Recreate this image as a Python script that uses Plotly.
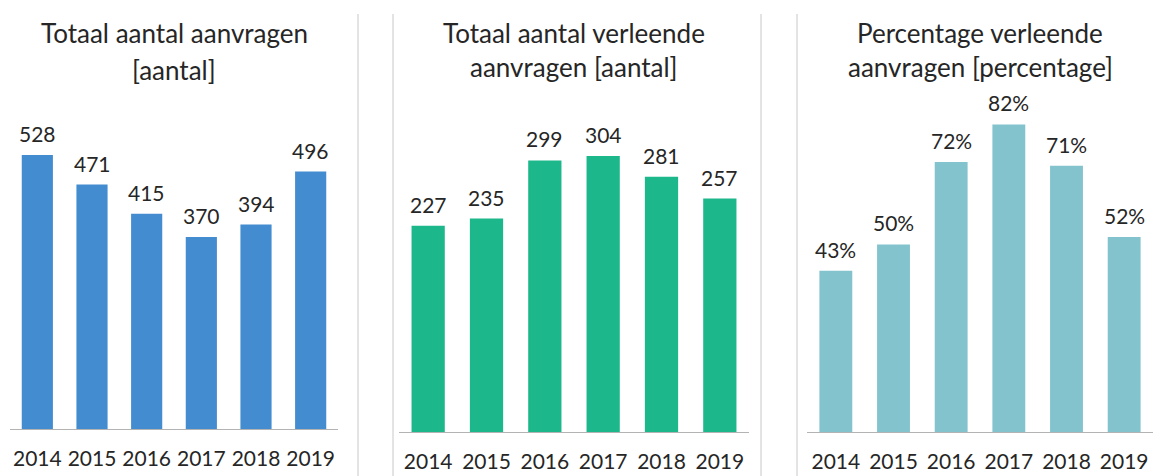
import plotly.graph_objects as go

years = ["2014", "2015", "2016", "2017", "2018", "2019"]
aanvragen = [528, 471, 415, 370, 394, 496]
verleend = [227, 235, 299, 304, 281, 257]
percentage = [43, 50, 72, 82, 71, 52]

titles = [
    ("Totaal aantal aanvragen", "[aantal]"),
    ("Totaal aantal verleende", "aanvragen [aantal]"),
    ("Percentage verleende", "aanvragen [percentage]"),
]
colors = ["#438CCF", "#1CB78B", "#82C3CD"]
series = [aanvragen, verleend, percentage]
fmts = ["{}", "{}", "{}%"]

W, H = 1156, 476
FONT = "Lato"

# pixel geometry of the three panels: (left, right, bottom, top, yrange max)
panels = [
    (10, 338, 429, 100, 634),
    (399, 749, 432, 100, 365.6),
    (807, 1153, 432, 100, 88.5),
]
title_y = [(33, 70), (33, 67), (33, 67)]

fig = go.Figure()
layout = dict(
    width=W, height=H, margin=dict(l=0, r=0, t=0, b=0),
    paper_bgcolor="white", plot_bgcolor="white",
    showlegend=False, bargap=0.43,
    font=dict(family=FONT, color="#262626"),
)
annotations = []
shapes = []
for i, (vals, col, fmt) in enumerate(zip(series, colors, fmts)):
    left, right, bottom, top, ymax = panels[i]
    sfx = "" if i == 0 else str(i + 1)
    fig.add_trace(go.Bar(x=years, y=vals, marker=dict(color=col, line=dict(width=0)),
                         xaxis="x" + sfx, yaxis="y" + sfx, hoverinfo="x+y"))
    layout["xaxis" + sfx] = dict(
        domain=[left / W, right / W], anchor="y" + sfx,
        type="category", range=[-0.5, 5.5],
        showline=True, linecolor="#B3B3B3", linewidth=1,
        showgrid=False, zeroline=False,
        ticks="outside", ticklen=11, tickcolor="rgba(0,0,0,0)",
        tickfont=dict(family=FONT, size=21, color="#262626"),
        fixedrange=True,
    )
    layout["yaxis" + sfx] = dict(
        domain=[1 - bottom / H, 1 - top / H], anchor="x" + sfx,
        range=[0, ymax], visible=False, showgrid=False, zeroline=False,
        fixedrange=True,
    )
    for j, v in enumerate(vals):
        annotations.append(dict(
            x=j, y=v, xref="x" + sfx, yref="y" + sfx,
            text=fmt.format(v), showarrow=False,
            xanchor="center", yanchor="bottom", yshift=7,
            font=dict(family=FONT, size=21, color="#262626"),
        ))
    cx = (left + right) / 2 / W
    for line, ypx in zip(titles[i], title_y[i]):
        annotations.append(dict(
            x=cx, y=1 - ypx / H, xref="paper", yref="paper",
            text=line, showarrow=False, xanchor="center", yanchor="middle",
            font=dict(family=FONT, size=26, color="#262626"),
        ))

for xpx in [358, 393, 761, 797]:
    shapes.append(dict(type="line", xref="paper", yref="paper",
                       x0=xpx / W, x1=xpx / W, y0=0, y1=1 - 14 / H,
                       line=dict(color="#C8C8C8", width=1)))

layout["annotations"] = annotations
layout["shapes"] = shapes
fig.update_layout(**layout)
fig.write_html("out.html", config={"displayModeBar": False},
               post_script="document.body.style.margin='0px';document.body.style.overflow='hidden';")
